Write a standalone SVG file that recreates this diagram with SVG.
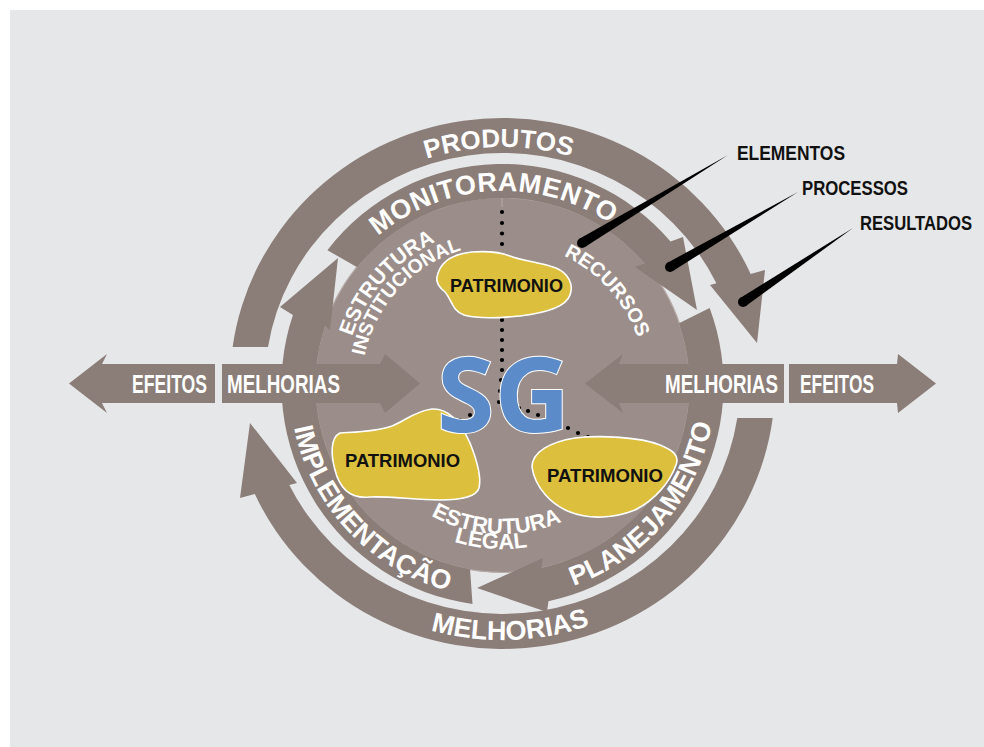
<svg xmlns="http://www.w3.org/2000/svg" width="984" height="747" viewBox="0 0 984 747">
<defs>
<style>
.band{fill:#8b7d77}
.disc{fill:#9b8e8a;stroke:#b6aca8;stroke-width:1.2}
.blob{fill:#dcbf3c;stroke:#ffffff;stroke-width:1.6}
.wt{fill:#ffffff;font-family:"Liberation Sans",Arial,sans-serif;font-weight:bold}
.bk{fill:#111111;font-family:"Liberation Sans",Arial,sans-serif;font-weight:bold}
.dot{fill:#000000}
</style>
<path id="pProd" d="M259,383.5 A243.5,236.5 0 0 1 746,383.5"/>
<path id="pMon" d="M307.77,395.21 A195,195 0 0 1 697.23,374.79"/>
<path id="pMelB" d="M239,383.5 A263.5,256.5 0 0 0 766,383.5"/>
<path id="pImp" d="M356.33,230.07 A213,213 0 0 0 648.67,539.93"/>
<path id="pPlan" d="M364.17,546.97 A213,213 0 0 0 640.83,223.03"/>
<path id="pEstI" d="M398.01,503.52 A158,158 0 0 1 606.99,266.48"/>
<path id="pInst" d="M407.24,488.96 A141,141 0 0 1 597.76,281.04"/>
<path id="pRec" d="M406.81,278.73 A143,143 0 0 1 598.19,491.27"/>
<path id="pEstL" d="M353.65,378.24 A149,149 0 0 0 651.35,391.76"/>
<path id="pLegal" d="M338.94,372.99 A164,164 0 0 0 666.06,397.01"/>
</defs>

<rect x="10" y="10" width="974" height="737" fill="#e6e7e9"/>

<g id="disc">
<circle class="disc" cx="502.5" cy="385" r="187.5"/>
<line x1="502" y1="198" x2="502" y2="207" stroke="#b6aca8" stroke-width="1"/>
</g>

<g id="outer-ring">
<path id="produtos" class="band" d="M232.6,347 A272.5,265.5 0 0 1 750.7,273.9 L765,270 L757,343 L710,285 L716.4,283.3 A237.5,230.5 0 0 0 268,347 Z"/>
<path id="melhorias-bottom" class="band" d="M772.7,418 A272.5,265.5 0 0 1 254.8,494.1 L240,498 L250,423 L297,483 L289.3,485 A237.5,230.5 0 0 0 737.3,418 Z"/>
<text class="wt" font-size="26"><textPath href="#pProd" startOffset="49.5%" text-anchor="middle">PRODUTOS</textPath></text>
<text class="wt" font-size="27"><textPath href="#pMelB" startOffset="51%" text-anchor="middle">MELHORIAS</textPath></text>
</g>

<g id="inner-ring">
<path id="monitoramento" class="band" d="M327.4,250.16 A221,221 0 0 1 670.55,241.47 L683,237 L697,310 L635,267 L644.7,263.55 A187,187 0 0 0 357.17,267.32 Z"/>
<path id="planejamento" class="band" d="M709.64,307.97 A221,221 0 0 1 548.45,601.17 L547,612 L477,588 L543,558 L541.38,567.91 A187,187 0 0 0 678.99,323.19 Z"/>
<path id="implementacao" class="band" d="M472.51,603.96 A221,221 0 0 1 292.92,314.88 L280,307 L338,258 L330,330 L325.16,325.66 A187,187 0 0 0 470.03,569.16 Z"/>
<text class="wt" font-size="27" letter-spacing="0.5"><textPath href="#pMon" startOffset="50%" text-anchor="middle">MONITORAMENTO</textPath></text>
<text class="wt" font-size="27"><textPath href="#pImp" startOffset="50%" text-anchor="middle">IMPLEMENTAÇÃO</textPath></text>
<text class="wt" font-size="27"><textPath href="#pPlan" startOffset="50%" text-anchor="middle">PLANEJAMENTO</textPath></text>
</g>

<g id="disc-labels">
<text class="wt" font-size="21"><textPath href="#pEstI" startOffset="50%" text-anchor="middle">ESTRUTURA</textPath></text>
<text class="wt" font-size="19.5"><textPath href="#pInst" startOffset="50%" text-anchor="middle">INSTITUCIONAL</textPath></text>
<text class="wt" font-size="20"><textPath href="#pRec" startOffset="50%" text-anchor="middle">RECURSOS</textPath></text>
<text class="wt" font-size="22"><textPath href="#pEstL" startOffset="50%" text-anchor="middle">ESTRUTURA</textPath></text>
<text class="wt" font-size="22"><textPath href="#pLegal" startOffset="50%" text-anchor="middle">LEGAL</textPath></text>
</g>

<g id="connectors">
<g id="dots" class="dot">
<circle cx="502" cy="212" r="2.1"/><circle cx="502" cy="223" r="2.1"/><circle cx="502" cy="233.5" r="2.1"/><circle cx="502" cy="244" r="2.1"/>
<circle cx="502" cy="320" r="2.1"/><circle cx="502" cy="330" r="2.1"/><circle cx="502" cy="340" r="2.1"/><circle cx="502" cy="350" r="2.1"/><circle cx="502" cy="360" r="2.1"/><circle cx="502" cy="370" r="2.1"/><circle cx="501" cy="380" r="2.1"/><circle cx="500" cy="391" r="2.1"/><circle cx="499" cy="402" r="2.1"/>
<circle cx="489" cy="407" r="2.1"/><circle cx="479" cy="411" r="2.1"/><circle cx="470" cy="415" r="2.1"/><circle cx="460" cy="420" r="2.1"/>
<circle cx="509" cy="405" r="2.1"/><circle cx="519" cy="408" r="2.1"/><circle cx="528" cy="411" r="2.1"/><circle cx="538" cy="415" r="2.1"/><circle cx="548" cy="420" r="2.1"/><circle cx="558" cy="424" r="2.1"/><circle cx="568" cy="428" r="2.1"/><circle cx="578" cy="433" r="2.1"/><circle cx="588" cy="437" r="2.1"/>
</g>
<g id="pointers" fill="#000000">
<polygon points="579.4,238.7 728,155 584.6,247.3"/><circle cx="582" cy="243" r="5"/>
<polygon points="667.5,262.7 798,192 672.5,271.3"/><circle cx="670" cy="267" r="5"/>
<polygon points="740.2,297.9 853,228 745.8,306.1"/><circle cx="743" cy="302" r="5"/>
</g>
</g>

<g id="patrimonio-1">
<path class="blob" d="M437,277 C440,262 452,254 472,252 C487,251 500,252 510,256 C522,261 540,262 556,268 C568,273 574,284 570,295 C566,307 545,313 520,316 C500,318 478,319 464,315 C452,311 452,300 445,292 C439,287 436,283 437,277 Z"/>
<text class="bk" x="450" y="292" font-size="19" textLength="113" lengthAdjust="spacingAndGlyphs">PATRIMONIO</text>
</g>
<g id="patrimonio-2">
<path class="blob" d="M340,433 C355,432 375,432 392,426 C405,421 415,411 432,409 C450,408 462,425 470,443 C476,458 482,476 479,488 C476,498 458,500 440,500 C415,500 390,496 370,497 C352,499 340,490 335,470 C331,455 330,438 340,433 Z"/>
<text class="bk" x="345" y="467" font-size="19" textLength="115" lengthAdjust="spacingAndGlyphs">PATRIMONIO</text>
</g>
<g id="patrimonio-3">
<path class="blob" d="M532,467 C532,452 550,442 575,438 C600,435 640,437 660,445 C672,450 680,455 676,465 C670,482 655,500 635,510 C615,518 590,520 570,512 C552,505 535,488 532,467 Z"/>
<text class="bk" x="547" y="482" font-size="19" textLength="116" lengthAdjust="spacingAndGlyphs">PATRIMONIO</text>
</g>

<g id="sg">
<text x="437" y="432" font-family="Open Sans, Liberation Sans, sans-serif" font-weight="bold" font-size="104" textLength="133" lengthAdjust="spacingAndGlyphs" fill="#5b8bc9" stroke="#ffffff" stroke-width="2" paint-order="stroke">SG</text>
</g>

<g id="arrows-left">
<polygon class="band" points="69,383.5 107,354 102,364 215,364 215,403 102,403 107,413"/>
<polygon class="band" points="222,364 380,364 385,354 420,383.5 385,413 380,403 222,403"/>
<text class="wt" x="132" y="393" font-size="25" textLength="75" lengthAdjust="spacingAndGlyphs">EFEITOS</text>
<text class="wt" x="227" y="393" font-size="25" textLength="113" lengthAdjust="spacingAndGlyphs">MELHORIAS</text>
</g>
<g id="arrows-right">
<polygon class="band" points="585,383.5 623,354 619,364 784,364 784,403 619,403 623,413"/>
<polygon class="band" points="789,364 897,364 898,354 936,383.5 898,413 897,403 789,403"/>
<text class="wt" x="665" y="393" font-size="25" textLength="113" lengthAdjust="spacingAndGlyphs">MELHORIAS</text>
<text class="wt" x="800" y="393" font-size="25" textLength="74" lengthAdjust="spacingAndGlyphs">EFEITOS</text>
</g>

<g id="legend">
<text class="bk" x="737" y="160" font-size="20" textLength="108" lengthAdjust="spacingAndGlyphs">ELEMENTOS</text>
<text class="bk" x="802" y="195" font-size="20" textLength="106" lengthAdjust="spacingAndGlyphs">PROCESSOS</text>
<text class="bk" x="860" y="230" font-size="20" textLength="112" lengthAdjust="spacingAndGlyphs">RESULTADOS</text>
</g>
</svg>
